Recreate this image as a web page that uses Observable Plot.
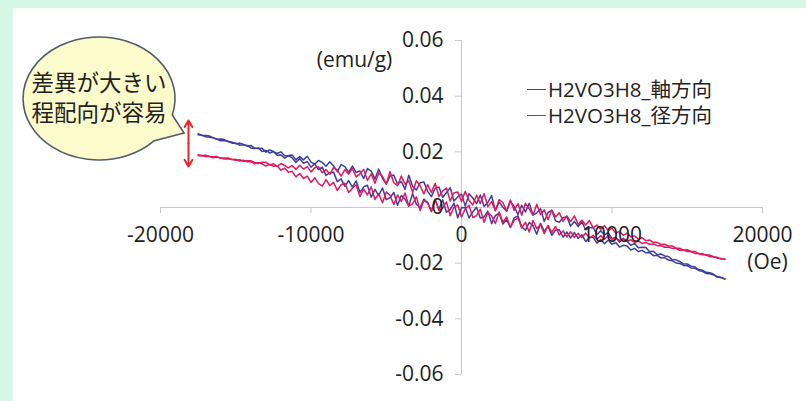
<!DOCTYPE html>
<html><head><meta charset="utf-8">
<script src="https://cdn.jsdelivr.net/npm/d3@7"></script>
<script src="https://cdn.jsdelivr.net/npm/@observablehq/plot@0.6"></script>
<style>
html,body{margin:0;padding:0;background:#d5f7e6;width:806px;height:401px;overflow:hidden;}
#panel{position:absolute;left:13px;top:8px;width:793px;height:393px;background:#fff;}
#chart{position:absolute;left:0;top:0;}
#legend{position:absolute;left:527px;top:76px;font:20.5px "Open Sans","Noto Sans CJK JP",sans-serif;color:#222;}
.row{height:26px;line-height:26px;display:flex;align-items:center;white-space:nowrap;}
.sw{width:19px;height:1px;margin-right:2px;}
</style></head><body>
<div id="panel"></div><div id="chart"></div><div id="legend"></div>
<script>
// ---- data (field in Oe, magnetization in units of 1e-4 emu/g) ----
const fieldOe = [
-17500,-17250,-17000,-16750,-16500,-16250,-16000,-15750,-15500,-15250,
-15000,-14750,-14500,-14250,-14000,-13750,-13500,-13250,-13000,-12750,
-12500,-12250,-12000,-11750,-11500,-11250,-11000,-10750,-10500,-10250,
-10000,-9750,-9500,-9250,-9000,-8750,-8500,-8250,-8000,-7750,
-7500,-7250,-7000,-6750,-6500,-6250,-6000,-5750,-5500,-5250,
-5000,-4750,-4500,-4250,-4000,-3750,-3500,-3250,-3000,-2750,
-2500,-2250,-2000,-1750,-1500,-1250,-1000,-750,-500,-250,
0,250,500,750,1000,1250,1500,1750,2000,2250,
2500,2750,3000,3250,3500,3750,4000,4250,4500,4750,
5000,5250,5500,5750,6000,6250,6500,6750,7000,7250,
7500,7750,8000,8250,8500,8750,9000,9250,9500,9750,
10000,10250,10500,10750,11000,11250,11500,11750,12000,12250,
12500,12750,13000,13250,13500,13750,14000,14250,14500,14750,
15000,15250,15500,15750,16000,16250,16500,16750,17000,17250,
17500];

const axialUpper = [
265,259,259,257,250,245,246,244,236,235,
229,231,227,221,223,213,212,213,199,207,
201,194,200,186,187,189,171,183,171,184,
163,156,169,162,148,164,149,129,154,147,
127,149,126,131,104,140,131,102,138,105,
84,113,117,84,94,65,116,76,63,89,
92,58,39,69,74,36,54,71,23,38,
48,5,49,34,14,45,4,18,43,-11,
20,1,-13,22,4,-25,8,-16,15,-27,
-20,-4,-50,-18,-10,-48,-53,-37,-33,-67,
-50,-68,-51,-80,-73,-72,-97,-84,-98,-90,
-112,-108,-125,-111,-121,-136,-129,-145,-143,-144,
-159,-157,-170,-167,-174,-176,-187,-188,-194,-203,
-203,-211,-213,-223,-225,-233,-234,-240,-249,-251,
-256];

const axialLower = [
261,260,254,252,251,245,240,241,238,231,
231,224,225,223,214,212,214,201,205,196,
201,188,189,177,186,178,162,175,159,165,
145,157,136,145,115,126,127,93,103,76,
97,73,96,54,74,80,37,65,43,70,
28,35,54,8,43,30,5,50,12,-1,
30,18,-15,27,-6,28,-17,-8,16,-37,
-1,0,-37,-16,1,-38,-34,-13,-58,-29,
-20,-59,-44,-72,-37,-30,-69,-82,-54,-65,
-96,-57,-86,-67,-100,-81,-80,-107,-88,-109,
-90,-111,-98,-122,-108,-107,-128,-115,-130,-117,
-132,-126,-142,-136,-138,-153,-147,-158,-154,-163,
-162,-173,-172,-181,-180,-189,-191,-199,-201,-208,
-209,-217,-218,-226,-229,-237,-238,-242,-250,-252,
-257];

const radialUpper = [
190,186,188,183,182,183,177,178,178,173,
170,172,166,168,168,162,158,163,163,153,
157,148,158,151,142,151,137,152,138,147,
128,143,146,125,136,119,143,134,113,136,
120,140,110,121,137,97,121,87,124,112,
84,129,89,78,113,84,96,55,96,78,
49,82,54,87,39,60,70,23,53,56,
22,58,25,9,44,14,50,3,21,-12,
28,18,-13,27,-10,14,-28,15,-5,-28,
12,-25,-8,-44,-9,-34,-19,-50,-30,-51,
-30,-60,-46,-63,-47,-73,-63,-79,-65,-83,
-75,-92,-86,-100,-92,-105,-102,-114,-108,-119,
-117,-125,-125,-133,-132,-138,-138,-146,-146,-153,
-152,-158,-158,-166,-166,-171,-171,-177,-179,-185,
-185];

const radialLower = [
186,187,183,183,179,181,178,174,175,172,
173,167,170,164,165,157,161,157,149,155,
148,150,134,141,127,130,110,122,104,113,
90,107,86,77,100,79,90,61,82,87,
54,69,82,39,66,45,74,29,50,17,
56,44,11,45,22,52,5,13,38,-11,
25,17,-12,30,-11,-2,20,-29,1,9,
-34,-5,8,-36,-29,-6,-53,-18,-30,-57,
-16,-53,-34,-71,-46,-37,-74,-53,-88,-47,
-76,-61,-94,-64,-89,-68,-99,-84,-106,-87,
-108,-93,-108,-92,-109,-100,-114,-101,-114,-102,
-115,-108,-119,-113,-122,-116,-125,-121,-129,-126,
-132,-131,-137,-137,-143,-142,-147,-147,-154,-153,
-158,-158,-165,-165,-170,-170,-177,-177,-182,-183,
-186];

const seriesNames = ["H2VO3H8_軸方向", "H2VO3H8_径方向"];
const seriesColors = ["#3d3d9e", "#e3185c"];
const xTicks = [-20000, -10000, 0, 10000, 20000];
const xTickLabels = ["-20000", "-10000", "0", "10000", "20000"];
const yTicks = [-0.06, -0.04, -0.02, 0, 0.02, 0.04, 0.06];
const yTickLabels = ["-0.06", "-0.04", "-0.02", "0", "0.02", "0.04", "0.06"];
const xUnit = "(Oe)";
const yUnit = "(emu/g)";
const calloutLines = ["差異が大きい", "程配向が容易"];

// annotation anchors (data space)
const callout = {H: -24050, M: 0.0390, tipH: -18400, tipM: 0.0266};
const gapArrow = {H: -18140, top: 0.0313, mid: 0.0230, bottom: 0.0147};

// ---- table ----
const rows = [];
function addBranch(vals, si, branch) {
  vals.forEach((v, i) => rows.push({H: fieldOe[i], M: v / 10000, series: seriesNames[si], branch: si + branch}));
}
addBranch(axialUpper, 0, "u");
addBranch(axialLower, 0, "l");
addBranch(radialUpper, 1, "u");
addBranch(radialLower, 1, "l");

const font = '"Open Sans","Noto Sans CJK JP",sans-serif';
const axisGray = "#c8c8c8";

function calloutMark(index, scales) {
  const {x, y} = scales;
  const cx = x(callout.H), cy = y(callout.M);
  const rx = 76, ry = 61.5;
  const a1 = 15.6 * Math.PI / 180, a2 = 43.3 * Math.PI / 180;
  const p1 = [cx + rx * Math.cos(a1), cy + ry * Math.sin(a1)];
  const p2 = [cx + rx * Math.cos(a2), cy + ry * Math.sin(a2)];
  const tip = [x(callout.tipH), y(callout.tipM)];
  const g = d3.create("svg:g");
  g.append("path")
    .attr("d", `M${p1[0]},${p1[1]}A${rx},${ry} 0 1 0 ${p2[0]},${p2[1]}L${tip[0]},${tip[1]}Z`)
    .attr("fill", "#fbfbcb").attr("stroke", "#4f5d6b").attr("stroke-width", 1.6);
  calloutLines.forEach((t, i) => {
    g.append("text").attr("x", cx).attr("y", cy - 16 + i * 30).attr("dy", "0.36em")
      .attr("text-anchor", "middle").attr("font-size", 22.5)
      .attr("font-family", '"Noto Sans CJK JP",sans-serif').attr("fill", "#222").text(t);
  });
  return g.node();
}

const chart = Plot.plot({
  width: 806, height: 401,
  marginLeft: 160, marginRight: 44, marginTop: 40, marginBottom: 27,
  style: {background: "transparent", fontFamily: font, overflow: "visible"},
  x: {domain: [-20000, 20000], axis: null},
  y: {domain: [-0.06, 0.06], axis: null},
  color: {domain: seriesNames, range: seriesColors},
  marks: [
    Plot.ruleY([0], {stroke: axisGray}),
    Plot.ruleX([0], {stroke: axisGray}),
    Plot.ruleY(yTicks, {y: d => d, x1: 0, x2: 0, insetLeft: -6, stroke: axisGray}),
    Plot.ruleX(xTicks, {x: d => d, y1: 0, y2: 0, insetBottom: -6, stroke: axisGray}),
    Plot.line(rows, {x: "H", y: "M", z: "branch", stroke: "series", strokeWidth: 1.5, curve: "linear"}),
    Plot.text(yTicks, {x: 0, y: d => d, text: (d, i) => yTickLabels[i], textAnchor: "end", dx: -18, fontSize: 21, fill: "#222"}),
    Plot.text(xTicks, {x: d => d, y: 0, text: (d, i) => xTickLabels[i], dy: 28, fontSize: 21, fill: "#222"}),
    Plot.text([yUnit], {x: 0, y: 0.06, text: d => d, dx: -107, dy: 20, fontSize: 21, fill: "#222"}),
    Plot.text([xUnit], {x: 20000, y: 0, text: d => d, dx: 5, dy: 55, fontSize: 21, fill: "#222"}),
    Plot.arrow([gapArrow], {x1: "H", x2: "H", y1: "mid", y2: "top", stroke: "#e8262b", strokeWidth: 2, headLength: 9}),
    Plot.arrow([gapArrow], {x1: "H", x2: "H", y1: "mid", y2: "bottom", stroke: "#e8262b", strokeWidth: 2, headLength: 9}),
    calloutMark
  ]
});
document.getElementById("chart").appendChild(chart);

const legend = document.getElementById("legend");
seriesNames.forEach((n, i) => {
  const r = document.createElement("div"); r.className = "row";
  const s = document.createElement("span"); s.className = "sw"; s.style.background = seriesColors[i];
  const t = document.createElement("span"); t.textContent = n;
  r.appendChild(s); r.appendChild(t); legend.appendChild(r);
});
</script></body></html>
